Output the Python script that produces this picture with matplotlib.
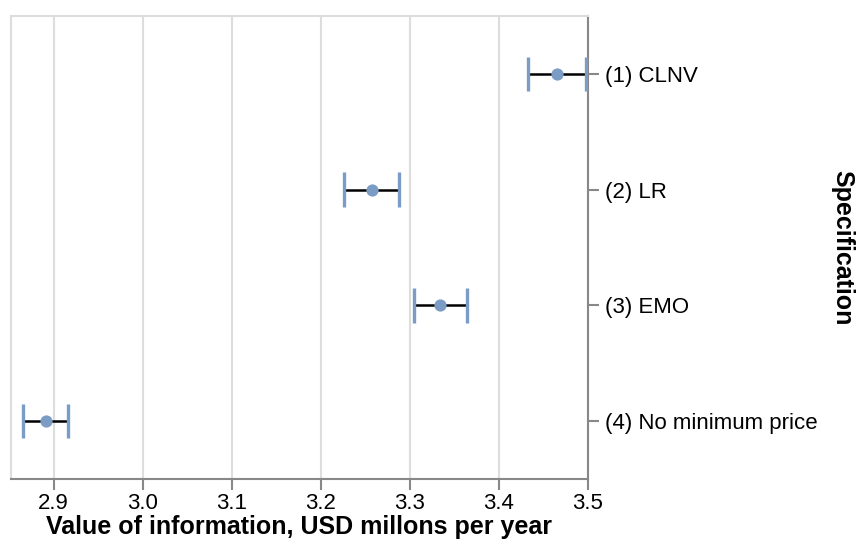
import numpy as np
import matplotlib.pyplot as plt

specs = ['(1) CLNV', '(2) LR', '(3) EMO', '(4) No minimum price']
value = [3.465, 3.257, 3.334, 2.891]
lower = [3.433, 3.226, 3.305, 2.866]
upper = [3.498, 3.288, 3.364, 2.916]

plt.rcParams['font.family'] = ['Liberation Sans', 'DejaVu Sans']

point_color = '#7b9cc4'
grid_color = '#dddddd'
axis_color = '#888888'

fig = plt.figure(figsize=(8.61, 5.52), dpi=100)
ax = fig.add_axes([11/861, 1-479/552, (588-11)/861, (479-16)/552])

y = np.arange(len(specs))
ax.hlines(y, lower, upper, color='black', lw=1.8, zorder=3)
ax.vlines(lower, y-0.15, y+0.15, color=point_color, lw=2.4, zorder=3)
ax.vlines(upper, y-0.15, y+0.15, color=point_color, lw=2.4, zorder=3)
ax.plot(value, y, 'o', color=point_color, ms=8.8, mew=0, zorder=4)

ax.set_xlim(2.852, 3.5)
ax.set_ylim(len(specs)-0.5, -0.5)
xt = [2.9, 3.0, 3.1, 3.2, 3.3, 3.4, 3.5]
ax.set_xticks(xt)
ax.set_xticklabels(['%.1f' % v for v in xt])
ax.set_yticks(y)
ax.set_yticklabels(specs, fontsize=16.5)
ax.yaxis.tick_right()

ax.grid(axis='x', color=grid_color, lw=1.5, zorder=0)
ax.set_axisbelow(True)
for side in ['top', 'left']:
    ax.spines[side].set_color(grid_color)
    ax.spines[side].set_linewidth(1.5)
for side in ['right', 'bottom']:
    ax.spines[side].set_color(axis_color)
    ax.spines[side].set_linewidth(1.5)
ax.tick_params(axis='both', color=axis_color, width=1.5, length=8, labelsize=16, pad=4)
ax.tick_params(axis='x', pad=2)

ax.set_xlabel('Value of information, USD millons per year', fontsize=18, fontweight='bold', labelpad=1)
fig.text(842/861, 1-247.5/552, 'Specification', rotation=-90, ha='center', va='center',
         fontsize=18, fontweight='bold')

fig.savefig('out.png', dpi=100)
